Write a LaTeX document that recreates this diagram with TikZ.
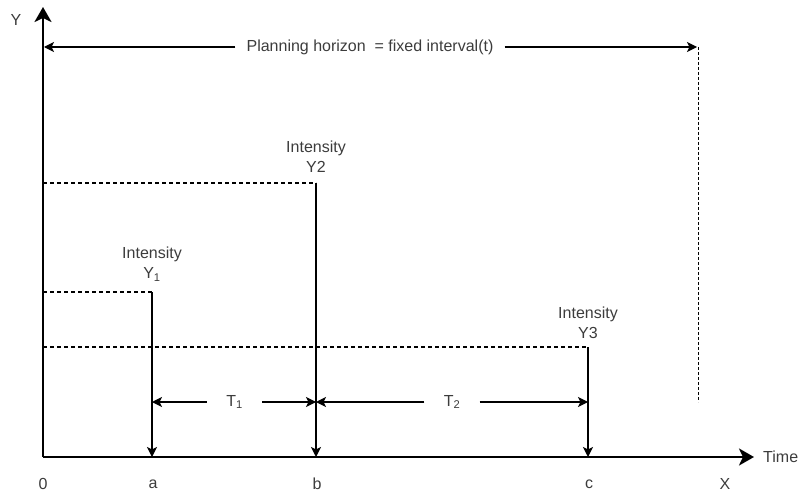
\documentclass[tikz,border=0pt]{standalone}
\usepackage{fontspec}
\setmainfont{Liberation Sans}
\usetikzlibrary{arrows.meta}
\definecolor{txt}{RGB}{60,60,60}
\begin{document}
\begin{tikzpicture}[x=1pt,y=-1pt,
  lbl/.style={text=txt,font=\fontsize{16}{20}\selectfont,inner sep=0pt},
  axisline/.style={line width=2.6pt,-{Stealth[length=15pt,width=17pt,inset=4pt]}},
  thinline/.style={line width=1.3pt},
  tipped/.style={thinline,-{Stealth[length=10pt,width=10pt,inset=2.5pt]}},
  dashline/.style={line width=1.1pt,dash pattern=on 4pt off 3pt},
  finedash/.style={line width=1pt,dash pattern=on 3pt off 2pt},
]
\useasboundingbox (0,0) rectangle (803,492);
% key points
\coordinate (O) at (43,457);
\coordinate (Ytop) at (43,7);
\coordinate (Xend) at (754,457);
\coordinate (a) at (152,457);
\coordinate (b) at (316,457);
\coordinate (c) at (588,457);
\coordinate (y1L) at (43,292);
\coordinate (y1T) at (152,292);
\coordinate (y2L) at (43,183);
\coordinate (y2T) at (316,183);
\coordinate (y3L) at (43,347);
\coordinate (y3T) at (588,347);
\coordinate (phL) at (44,47);
\coordinate (phR) at (697,47);
\coordinate (phTop) at (698,47);
\coordinate (phBot) at (698,402);
\coordinate (t1L) at (152,402);
\coordinate (t1R) at (316,402);
\coordinate (t2L) at (316,402);
\coordinate (t2R) at (588,402);

% axes
\draw[axisline] (O) -- (Ytop);
\draw[axisline] (O) -- (Xend);
\node[lbl] (ylab) at (16,20) {Y};
\node[lbl,anchor=west] (time) at (763,457) {Time};

% planning horizon
\node[lbl,inner xsep=11pt] (ph) at (370,47) {Planning horizon~ = fixed interval(t)};
\draw[tipped] (ph.west) -- (phL);
\draw[tipped] (ph.east) -- (phR);
\draw[finedash] (phTop) -- (phBot);

% intensities
\draw[dashline] (y1L) -- (y1T);
\draw[tipped] (y1T) -- (a);
\draw[dashline] (y2L) -- (y2T);
\draw[tipped] (y2T) -- (b);
\draw[dashline] (y3L) -- (y3T);
\draw[tipped] (y3T) -- (c);
\node[lbl,align=center] (i1) at (152,264) {Intensity\\Y\textsubscript{1}};
\node[lbl,align=center] (i2) at (316,157) {Intensity\\Y2};
\node[lbl,align=center] (i3) at (588,323) {Intensity\\Y3};

% intervals
\node[lbl,minimum width=55pt] (T1) at (234.5,402) {T\textsubscript{1}};
\draw[tipped] (T1.west) -- (t1L);
\draw[tipped] (T1.east) -- (t1R);
\node[lbl,minimum width=55pt] (T2) at (452,402) {T\textsubscript{2}};
\draw[tipped] (T2.west) -- (t2L);
\draw[tipped] (T2.east) -- (t2R);

% tick labels
\node[lbl] (l0) at (43,484) {0};
\node[lbl] (la) at (153,484) {a};
\node[lbl] (lb) at (317,484) {b};
\node[lbl] (lc) at (589,484) {c};
\node[lbl] (lx) at (725,484) {X};
\end{tikzpicture}
\end{document}
